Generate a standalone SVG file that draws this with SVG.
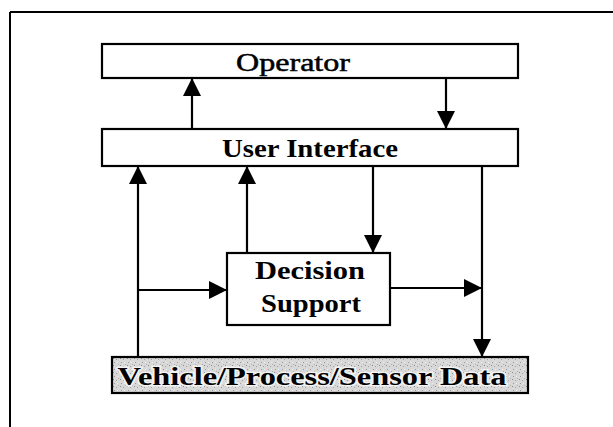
<svg xmlns="http://www.w3.org/2000/svg" width="613" height="427" viewBox="0 0 613 427">
<style>
.box{fill:#fff;stroke:#000;stroke-width:2.2}
.lbl{font-family:"Liberation Serif","Times New Roman",serif;font-weight:bold;font-size:25px;fill:#000;text-anchor:middle}
.reg{font-weight:normal;stroke:#000;stroke-width:0.5}
.con{stroke:#000;stroke-width:2.2;fill:none}
</style>
<defs>
<marker id="ah" markerUnits="userSpaceOnUse" markerWidth="19" markerHeight="18" refX="18" refY="9" orient="auto">
<path d="M0,0 L18,9 L0,18 z" fill="#000"/>
</marker>
<pattern id="stip" width="7" height="7" patternUnits="userSpaceOnUse">
<rect width="7" height="7" fill="#d8d8d8"/>
<rect x="1" y="1" width="1" height="1" fill="#8a8a8a"/>
<rect x="4" y="2" width="1" height="1" fill="#a0a0a0"/>
<rect x="2" y="5" width="1" height="1" fill="#999"/>
<rect x="5" y="5" width="1" height="1" fill="#eee"/>
<rect x="6" y="0" width="1" height="1" fill="#b0b0b0"/>
</pattern>
</defs>
<g id="frame">
<path d="M10,12 H613 M10,12 V427" stroke="#000" stroke-width="2" fill="none"/>
</g>
<g id="connectors">
<line class="con" x1="192" y1="129" x2="192" y2="78" marker-end="url(#ah)"/>
<line class="con" x1="446" y1="78" x2="446" y2="129" marker-end="url(#ah)"/>
<line class="con" x1="138" y1="359" x2="138" y2="166" marker-end="url(#ah)"/>
<line class="con" x1="247" y1="253" x2="247" y2="166" marker-end="url(#ah)"/>
<line class="con" x1="373" y1="166" x2="373" y2="253" marker-end="url(#ah)"/>
<line class="con" x1="482" y1="166" x2="482" y2="357" marker-end="url(#ah)"/>
<line class="con" x1="138" y1="290" x2="227" y2="290" marker-end="url(#ah)"/>
<line class="con" x1="390" y1="288" x2="482" y2="288" marker-end="url(#ah)"/>
</g>
<g id="operator">
<rect class="box" x="102" y="44" width="416" height="34"/>
<text class="lbl reg" x="293" y="71" textLength="114" lengthAdjust="spacingAndGlyphs">Operator</text>
</g>
<g id="user-interface">
<rect class="box" x="102" y="129" width="416" height="37"/>
<text class="lbl" x="310" y="157" textLength="176" lengthAdjust="spacingAndGlyphs">User Interface</text>
</g>
<g id="decision-support">
<rect class="box" x="227" y="253" width="163" height="72"/>
<text class="lbl" x="310" y="279" textLength="110" lengthAdjust="spacingAndGlyphs">Decision</text>
<text class="lbl" x="311" y="312" textLength="100" lengthAdjust="spacingAndGlyphs">Support</text>
</g>
<g id="vehicle-data">
<rect x="112" y="357" width="416" height="36" fill="url(#stip)" stroke="#000" stroke-width="2.2"/>
<text class="lbl" x="312" y="385" textLength="389" lengthAdjust="spacingAndGlyphs" style="stroke:#f2f2f2;stroke-width:3;paint-order:stroke">Vehicle/Process/Sensor Data</text>
</g>
</svg>
